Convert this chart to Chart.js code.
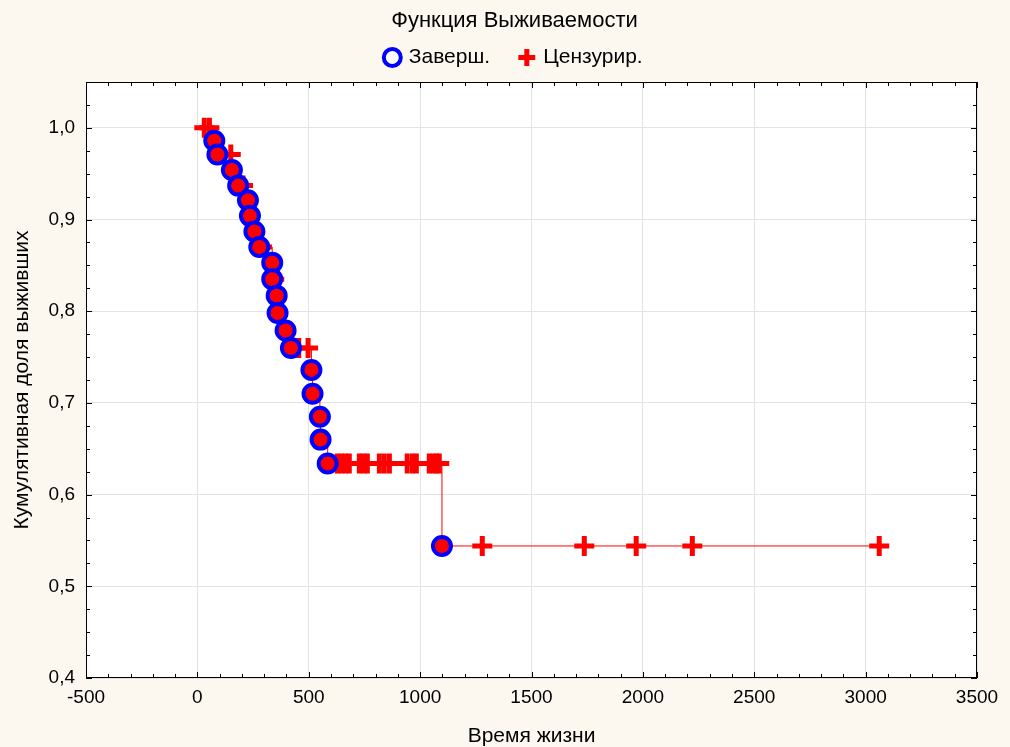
<!DOCTYPE html>
<html>
<head>
<meta charset="utf-8">
<script src="https://cdn.jsdelivr.net/npm/chart.js@4.4.1/dist/chart.umd.min.js"></script>
<style>
html, body { margin: 0; padding: 0; background: #fcf8ef; }
#wrap { width: 1010px; height: 747px; }
</style>
</head>
<body>
<div id="wrap"><canvas id="survivalChart" width="1010" height="747"></canvas></div>
<script>
// events (circles) - time and survival
const eventTimes = [76, 90, 155, 183, 227, 236, 256, 278, 336, 336, 356, 360, 396, 420, 512, 517, 550, 553, 585, 1098];
const eventSurv  = [0.986, 0.971, 0.954, 0.937, 0.921, 0.904, 0.887, 0.870, 0.853, 0.835, 0.817, 0.798, 0.779, 0.760, 0.736, 0.710, 0.685, 0.660, 0.634, 0.544];

// censored (crosses)
const censTimes = [31, 54, 150, 205, 290, 345, 455, 497,
    628, 646, 664, 682, 727, 745, 763, 817, 839, 862, 942, 965, 983, 1041, 1059, 1073, 1086,
    1279, 1737, 1970, 2222, 3061];
const censSurv  = [1.0, 1.0, 0.971, 0.937, 0.870, 0.835, 0.760, 0.760,
    0.634, 0.634, 0.634, 0.634, 0.634, 0.634, 0.634, 0.634, 0.634, 0.634, 0.634, 0.634, 0.634, 0.634, 0.634, 0.634, 0.634,
    0.544, 0.544, 0.544, 0.544, 0.544];

const xTicks = [-500, 0, 500, 1000, 1500, 2000, 2500, 3000, 3500];
const yTicks = [0.4, 0.5, 0.6, 0.7, 0.8, 0.9, 1.0];

const FONT = 'Liberation Sans, Arial, sans-serif';

const eventPts = eventTimes.map((t, i) => ({ x: t, y: eventSurv[i] }));
const censPts = censTimes.map((t, i) => ({ x: t, y: censSurv[i] }));

// step curve goes through every point in time order
const curvePts = [{ x: 0, y: 1.0 }].concat(eventPts, censPts)
    .sort((a, b) => a.x - b.x || b.y - a.y);

// small empty box between legend and plot
const spacerPlugin = {
    id: 'spacer',
    beforeInit(chart) {
        Chart.layouts.addBox(chart, {
            position: 'top',
            weight: 500,
            fullSize: true,
            options: {},
            top: 0, left: 0, right: 0, bottom: 0, width: 0, height: 0,
            isHorizontal() { return true; },
            update(maxWidth) { this.width = maxWidth; this.height = 4; },
            draw() {}
        });
    }
};

// white plot area + black frame with inward ticks
const framePlugin = {
    id: 'frame',
    afterLayout(chart) {
        // title + legend sit a bit right of the layout centre
        const dx = 23;
        [chart.titleBlock, chart.legend].forEach(b => {
            if (b) { b.left += dx; b.right += dx; }
        });
    },
    beforeDraw(chart) {
        const { ctx, chartArea: a } = chart;
        ctx.save();
        ctx.fillStyle = '#ffffff';
        ctx.fillRect(a.left, a.top, a.right - a.left, a.bottom - a.top);
        ctx.restore();
    },
    afterDraw(chart) {
        const { ctx, chartArea: a, scales } = chart;
        ctx.save();
        ctx.strokeStyle = '#000';
        ctx.lineWidth = 1;
        ctx.strokeRect(a.left + 0.5, a.top + 0.5, a.right - a.left - 1, a.bottom - a.top - 1);
        ctx.beginPath();
        for (let v = -500; v <= 3500; v += 100) {
            const px = Math.round(scales.x.getPixelForValue(v)) + 0.5;
            const len = v % 500 === 0 ? 6 : 4;
            ctx.moveTo(px, a.bottom); ctx.lineTo(px, a.bottom - len);
            ctx.moveTo(px, a.top); ctx.lineTo(px, a.top + len);
        }
        for (let k = 0; k <= 26; k++) {
            const v = 0.4 + k * 0.025;
            const py = Math.round(scales.y.getPixelForValue(v)) + 0.5;
            const len = k % 4 === 0 ? 6 : 4;
            ctx.moveTo(a.left, py); ctx.lineTo(a.left + len, py);
            ctx.moveTo(a.right, py); ctx.lineTo(a.right - len, py);
        }
        ctx.stroke();
        ctx.restore();
    }
};

new Chart(document.getElementById('survivalChart'), {
    type: 'scatter',
    data: {
        datasets: [
            {
                label: 'Заверш.',
                data: eventPts,
                pointStyle: 'circle',
                pointRadius: 9,
                pointBorderWidth: 4,
                pointBorderColor: '#0000ff',
                pointBackgroundColor: '#ff0000',
                showLine: false,
                order: 1
            },
            {
                label: 'Цензурир.',
                data: censPts,
                pointStyle: 'cross',
                pointRadius: 10,
                pointBorderWidth: 5,
                pointBorderColor: '#ff0000',
                pointBackgroundColor: '#ff0000',
                showLine: false,
                order: 2
            },
            {
                label: 'curve',
                data: curvePts,
                showLine: true,
                stepped: true,
                borderColor: '#ff0000',
                borderWidth: 1,
                pointRadius: 0,
                order: 3
            }
        ]
    },
    options: {
        responsive: false,
        animation: false,
        layout: { padding: { top: 10, right: 33, left: 6, bottom: 0 } },
        plugins: {
            tooltip: { enabled: false },
            title: {
                display: true,
                text: 'Функция Выживаемости',
                color: '#000',
                font: { family: FONT, size: 22, weight: 'normal', lineHeight: 1 },
                padding: { top: 0, bottom: -4 }
            },
            legend: {
                position: 'top',
                labels: {
                    color: '#000',
                    font: { family: FONT, size: 21 },
                    usePointStyle: true,
                    boxWidth: 12,
                    boxHeight: 12,
                    padding: 19,
                    generateLabels(chart) {
                        return [
                            { text: 'Заверш.\u00a0\u00a0', pointStyle: 'circle', fillStyle: '#ffffff', strokeStyle: '#0000ff', lineWidth: 4, datasetIndex: 0 },
                            { text: 'Цензурир.', pointStyle: 'cross', fillStyle: '#ff0000', strokeStyle: '#ff0000', lineWidth: 5, datasetIndex: 1 }
                        ];
                    }
                }
            }
        },
        scales: {
            x: {
                type: 'linear',
                min: -500,
                max: 3500,
                afterBuildTicks: s => { s.ticks = xTicks.map(v => ({ value: v })); },
                afterFit: s => { s.height = 69; },
                grid: { color: '#e3e3e3', drawTicks: false },
                border: { display: false },
                ticks: { color: '#000', font: { family: FONT, size: 19 }, padding: 8, callback: v => String(v) },
                title: { display: true, text: 'Время жизни', color: '#000', font: { family: FONT, size: 21, lineHeight: 1 }, padding: { top: 13, bottom: 0 } }
            },
            y: {
                type: 'linear',
                min: 0.4,
                max: 1.05,
                afterBuildTicks: s => { s.ticks = yTicks.map(v => ({ value: v })); },
                afterFit: s => { s.width = 80; },
                grid: { color: '#e3e3e3', drawTicks: false },
                border: { display: false },
                ticks: {
                    color: '#000',
                    font: { family: FONT, size: 19 },
                    padding: 11,
                    callback: v => v.toFixed(1).replace('.', ',')
                },
                title: { display: true, text: 'Кумулятивная доля выживших', color: '#000', font: { family: FONT, size: 21 }, padding: 4 }
            }
        }
    },
    plugins: [spacerPlugin, framePlugin]
});
</script>
</body>
</html>
